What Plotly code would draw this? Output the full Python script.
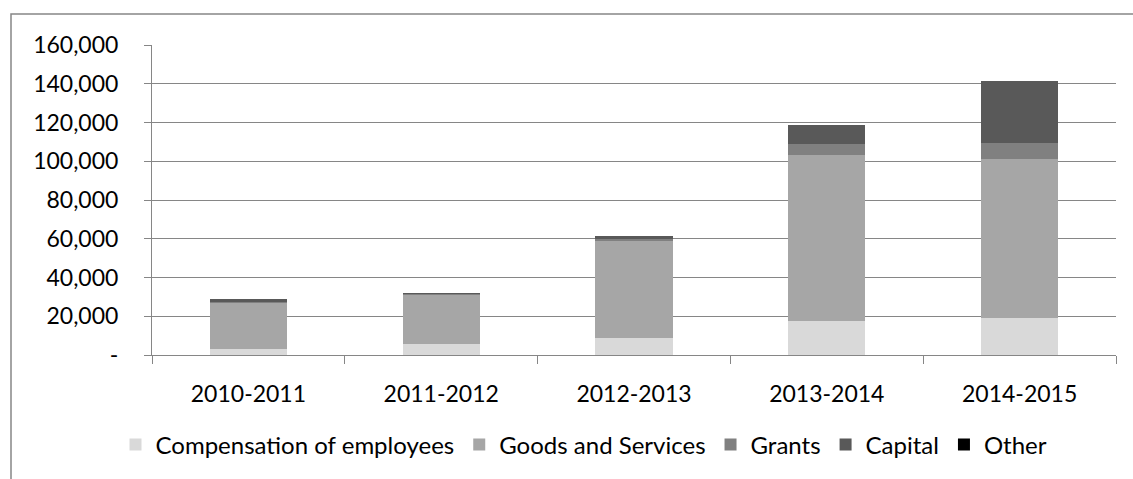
import plotly.graph_objects as go

years = ["2010-2011", "2011-2012", "2012-2013", "2013-2014", "2014-2015"]
compensation = [3100, 5700, 8800, 17700, 18900]
goods_services = [24100, 25600, 50500, 85500, 82100]
grants = [400, 200, 400, 5700, 8400]
capital = [1100, 500, 1700, 9600, 31800]
other = [0, 0, 0, 0, 0]

series_names = ["Compensation of employees", "Goods and Services", "Grants", "Capital", "Other"]
series_values = [compensation, goods_services, grants, capital, other]
series_colors = ["#D9D9D9", "#A6A6A6", "#808080", "#595959", "#000000"]

y_tickvals = [0, 20000, 40000, 60000, 80000, 100000, 120000, 140000, 160000]
y_ticktext = ["-", "20,000", "40,000", "60,000", "80,000", "100,000", "120,000", "140,000", "160,000"]

FONT = "Lato"

fig = go.Figure()
for name, vals, col in zip(series_names, series_values, series_colors):
    fig.add_trace(go.Bar(x=years, y=vals, name=name, marker=dict(color=col, line=dict(width=0))))

W, H = 1133, 479
ml, mr, mt, mb = 152, 17, 45, 124
pw, ph = W - ml - mr, H - mt - mb

fig.update_layout(
    width=W, height=H,
    barmode="stack",
    bargap=0.6,
    plot_bgcolor="white",
    paper_bgcolor="white",
    margin=dict(l=ml, r=mr, t=mt, b=mb, pad=0),
    font=dict(family=FONT, size=23, color="#000000"),
    showlegend=True,
    legend=dict(
        orientation="h",
        x=(584 - ml) / pw, xanchor="center",
        y=-(445 - (mt + ph)) / ph, yanchor="middle",
        font=dict(family=FONT, size=24),
        itemwidth=30,
        traceorder="normal",
        itemclick=False,
    ),
    xaxis=dict(
        type="category",
        showline=True, linecolor="#868686", linewidth=1,
        ticks="outside", ticklen=8, tickcolor="#868686", tickwidth=1,
        tickson="boundaries",
        showgrid=False,
        ticklabelstandoff=18,
    ),
    yaxis=dict(
        range=[0, 160000],
        tickvals=y_tickvals, ticktext=y_ticktext,
        showline=True, linecolor="#868686", linewidth=1,
        ticks="outside", ticklen=7, tickcolor="#868686", tickwidth=1,
        showgrid=True, gridcolor="#868686", gridwidth=1,
        zeroline=False,
        ticklabelstandoff=21,
    ),
    shapes=[
        dict(type="rect", xref="paper", yref="paper",
             x0=(11 - ml) / pw, x1=(W + 20 - ml) / pw,
             y0=-(H + 20 - (mt + ph)) / ph, y1=1 + (mt - 14) / ph,
             line=dict(color="#868686", width=1.5), fillcolor="rgba(0,0,0,0)", layer="below"),
    ],
)

fig.write_html("out.html")
